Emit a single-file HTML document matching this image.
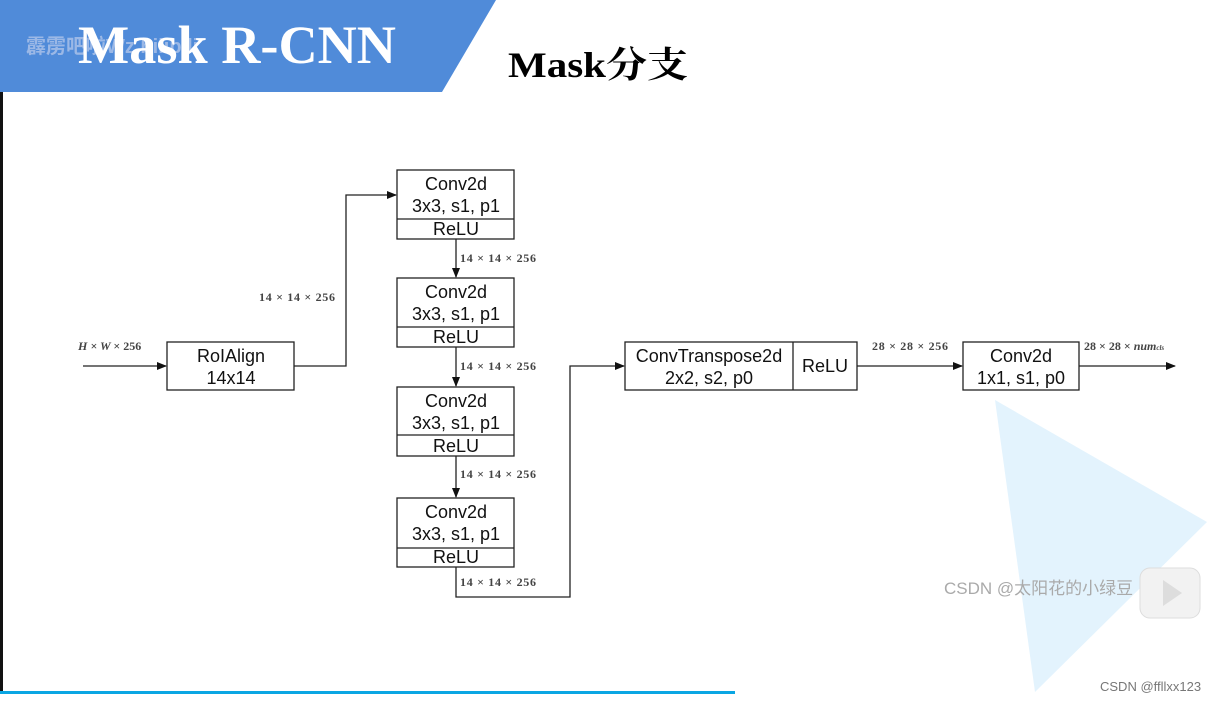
<!DOCTYPE html>
<html><head><meta charset="utf-8"><style>
html,body{margin:0;padding:0;background:#fff;}
svg{display:block;}
</style></head><body>
<svg width="1230" height="701" viewBox="0 0 1230 701" xmlns="http://www.w3.org/2000/svg">
<defs><marker id="a" markerWidth="10" markerHeight="8" refX="9" refY="4" orient="auto" markerUnits="userSpaceOnUse"><path d="M0,0 L10,4 L0,8 z" fill="#111"/></marker></defs>
<rect width="1230" height="701" fill="#fff"/>
<polygon points="995,400 1207,522 1035,692" fill="#e3f3fd"/>
<polygon points="0,0 496,0 442,92 0,92" fill="#508bd9"/>
<rect x="0" y="92" width="3" height="600" fill="#111"/>
<rect x="0" y="691" width="735" height="3" fill="#0aa6e3"/>
<text x="26" y="53" font-family="Liberation Sans, Noto Sans CJK SC, sans-serif" font-size="20" fill="#9bb8e6" font-weight="bold">霹雳吧啦Wz  bilibili</text>
<text x="78" y="63" font-family="Liberation Serif, serif" font-size="54" font-weight="bold" fill="#fff" textLength="318" lengthAdjust="spacingAndGlyphs">Mask R-CNN</text>
<text x="508" y="77" font-family="Liberation Serif, Noto Serif CJK SC, serif" font-size="36" font-weight="bold" fill="#000" textLength="180" lengthAdjust="spacingAndGlyphs">Mask分支</text>
<g stroke="#222" stroke-width="1.3" fill="none">
<rect x="167" y="342" width="127" height="48"/>
<rect x="397" y="170" width="117" height="69"/><line x1="397" y1="219" x2="514" y2="219"/>
<rect x="397" y="278" width="117" height="69"/><line x1="397" y1="327" x2="514" y2="327"/>
<rect x="397" y="387" width="117" height="69"/><line x1="397" y1="435" x2="514" y2="435"/>
<rect x="397" y="498" width="117" height="69"/><line x1="397" y1="548" x2="514" y2="548"/>
<rect x="625" y="342" width="232" height="48"/><line x1="793" y1="342" x2="793" y2="390"/>
<rect x="963" y="342" width="116" height="48"/>
<line x1="83" y1="366" x2="166" y2="366" marker-end="url(#a)"/>
<polyline points="294,366 346,366 346,195 396,195" marker-end="url(#a)"/>
<line x1="456" y1="239" x2="456" y2="277" marker-end="url(#a)"/>
<line x1="456" y1="347" x2="456" y2="386" marker-end="url(#a)"/>
<line x1="456" y1="456" x2="456" y2="497" marker-end="url(#a)"/>
<polyline points="456,567 456,597 570,597 570,366 624,366" marker-end="url(#a)"/>
<line x1="857" y1="366" x2="962" y2="366" marker-end="url(#a)"/>
<line x1="1079" y1="366" x2="1175" y2="366" marker-end="url(#a)"/>
</g>
<g font-family="Liberation Sans, sans-serif" font-size="18" fill="#111" text-anchor="middle">
<text x="231" y="362">RoIAlign</text><text x="231" y="384">14x14</text>
<text x="456" y="190">Conv2d</text><text x="456" y="212">3x3, s1, p1</text><text x="456" y="235">ReLU</text>
<text x="456" y="298">Conv2d</text><text x="456" y="320">3x3, s1, p1</text><text x="456" y="343">ReLU</text>
<text x="456" y="407">Conv2d</text><text x="456" y="429">3x3, s1, p1</text><text x="456" y="452">ReLU</text>
<text x="456" y="518">Conv2d</text><text x="456" y="540">3x3, s1, p1</text><text x="456" y="563">ReLU</text>
<text x="709" y="362">ConvTranspose2d</text><text x="709" y="384">2x2, s2, p0</text>
<text x="825" y="372">ReLU</text>
<text x="1021" y="362">Conv2d</text><text x="1021" y="384">1x1, s1, p0</text>
</g>
<g font-family="Liberation Serif, serif" font-size="12" font-weight="bold" fill="#444">
<text x="78" y="350" font-style="italic">H × W <tspan font-style="normal">× 256</tspan></text>
<text x="259" y="301" textLength="76">14 × 14 × 256</text>
<text x="460" y="262" textLength="76">14 × 14 × 256</text>
<text x="460" y="370" textLength="76">14 × 14 × 256</text>
<text x="460" y="478" textLength="76">14 × 14 × 256</text>
<text x="460" y="586" textLength="76">14 × 14 × 256</text>
<text x="872" y="350" textLength="76">28 × 28 × 256</text>
<text x="1084" y="350">28 × 28 × <tspan font-style="italic">num</tspan><tspan font-size="7" font-style="italic">cls</tspan></text>
</g>
<text x="944" y="594" font-family="Liberation Sans, Noto Sans CJK SC, sans-serif" font-size="17" fill="#aaa">CSDN @太阳花的小绿豆</text>
<rect x="1140" y="568" width="60" height="50" rx="10" fill="#f2f2f2" stroke="#ddd"/>
<polygon points="1163,580 1182,593 1163,606" fill="#ddd"/>
<text x="1100" y="691" font-family="Liberation Sans, sans-serif" font-size="13" fill="#777">CSDN @ffllxx123</text>
</svg>
</body></html>
